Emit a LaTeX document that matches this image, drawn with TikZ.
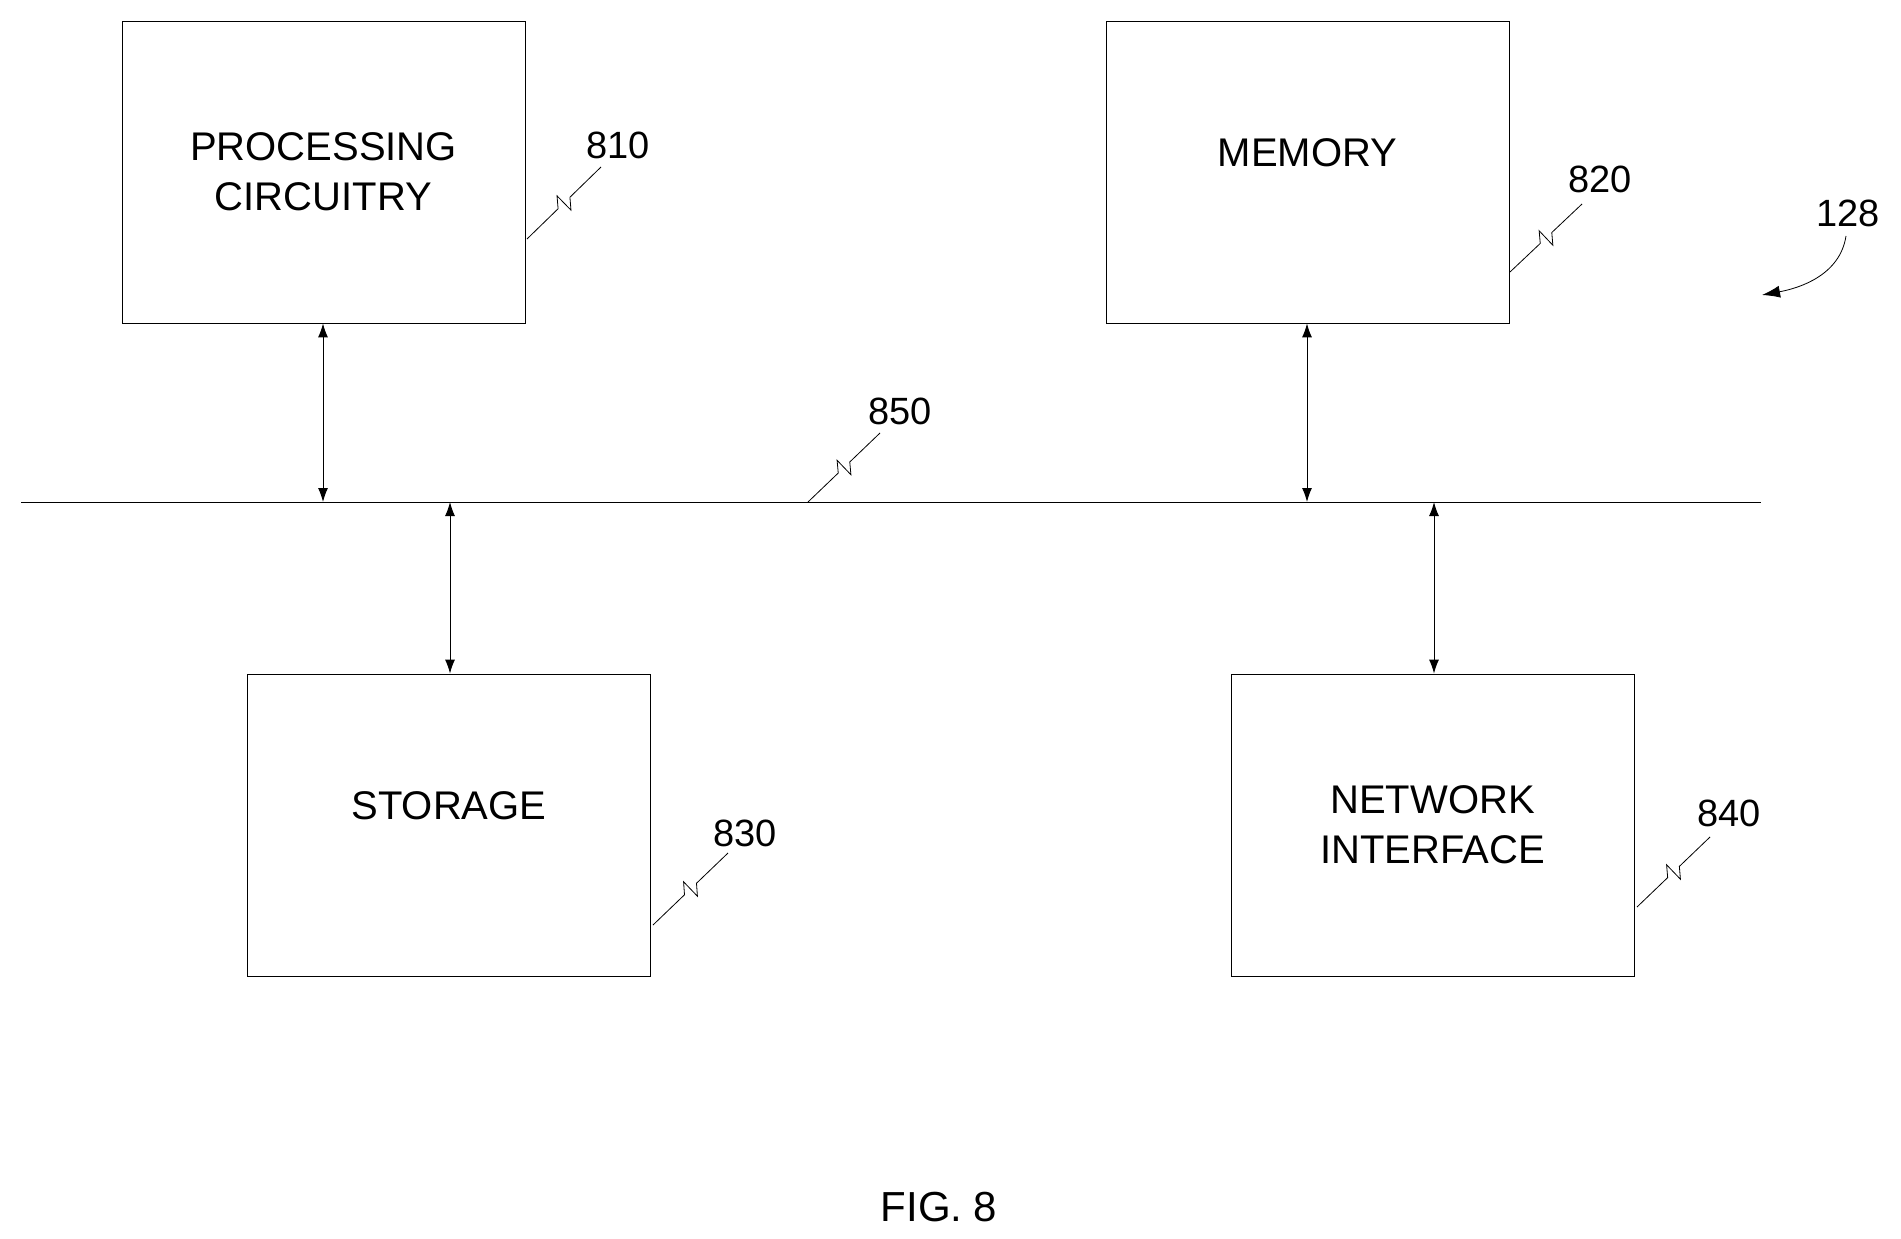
\documentclass[tikz,border=0pt]{standalone}
\usepackage{fontspec}
\setmainfont{Liberation Sans}
\usetikzlibrary{arrows.meta,calc}
\begin{document}
\begin{tikzpicture}[x=1pt,y=-1pt,
  box/.style={draw,line width=0.8pt,minimum width=403pt,minimum height=302pt,align=center,font=\fontsize{40}{50}\selectfont,inner sep=0pt},
  lab/.style={font=\fontsize{38}{44}\selectfont,inner sep=0pt},
  link/.style={line width=1pt,{Latex[length=14pt,width=10pt]}-{Latex[length=14pt,width=10pt]}},
  sq/.style={line width=0.8pt}]
\useasboundingbox (0,0) rectangle (1901,1239);
\newcommand{\squig}[2]{\draw[sq] (#1) -- ($(#1)!0.42!(#2)$) -- ($($(#1)!0.5!(#2)$)!10pt!90:(#2)$) -- ($($(#1)!0.5!(#2)$)!10pt!-90:(#2)$) -- ($(#1)!0.58!(#2)$) -- (#2);}
\node[box] (p) at (323.5,172) {PROCESSING\\CIRCUITRY};
\node[box] (m) at (1307.5,172) {MEMORY\\[-0.3em]\phantom{X}};
\node[box] (s) at (449,825) {STORAGE\\[-0.3em]\phantom{X}};
\node[box] (n) at (1432.5,825) {NETWORK\\INTERFACE};
\coordinate (bl) at (21,502); \coordinate (br) at (1761,502);
\draw[line width=0.8pt] (bl) -- (br);
\coordinate (b1) at (323,502); \coordinate (b2) at (450,502);
\coordinate (b3) at (1307,502); \coordinate (b4) at (1434,502);
\draw[link] (p.south -| b1) -- (b1);
\draw[link] (s.north -| b2) -- (b2);
\draw[link] (m.south -| b3) -- (b3);
\draw[link] (n.north -| b4) -- (b4);
\node[lab] (l810) at (618,145) {810};
\node[lab] (l820) at (1600,179) {820};
\node[lab] (l850) at (900,411) {850};
\node[lab] (l830) at (745,833) {830};
\node[lab] (l840) at (1729,813) {840};
\node[lab] (l128) at (1848,213) {128};
\coordinate (a1) at (527,239); \coordinate (a2) at (601,167); \squig{a1}{a2}
\coordinate (c1) at (1510,272); \coordinate (c2) at (1582,204); \squig{c1}{c2}
\coordinate (d1) at (808,502); \coordinate (d2) at (880,433); \squig{d1}{d2}
\coordinate (e1) at (653,925); \coordinate (e2) at (728,853); \squig{e1}{e2}
\coordinate (f1) at (1637,907); \coordinate (f2) at (1710,837); \squig{f1}{f2}
\coordinate (t) at (1762,295);
\draw[line width=0.8pt,-{Latex[length=18pt,width=12pt]}] (1846,236) .. controls (1840,275) and (1800,288) .. (t);
\node[font=\fontsize{42}{50}\selectfont] (fig) at (939,1207) {FIG. 8};
\end{tikzpicture}
\end{document}
